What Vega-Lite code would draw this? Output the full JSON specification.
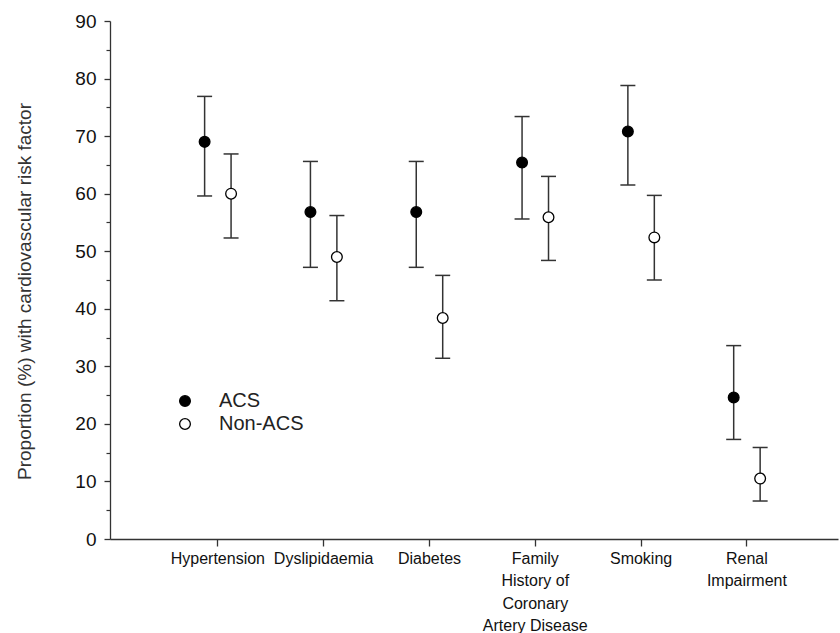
{
  "$schema": "https://vega.github.io/schema/vega-lite/v6.json",
  "width": 728,
  "height": 518,
  "autosize": {"type": "none"},
  "padding": {"left": 110, "top": 21, "right": 2, "bottom": 94},
  "background": "white",
  "config": {
    "view": {"stroke": null},
    "font": "Liberation Sans"
  },
  "data": {
    "values": [
      {"cat": "Hypertension", "group": "ACS", "value": 69.0, "lo": 59.6, "hi": 76.9},
      {"cat": "Hypertension", "group": "Non-ACS", "value": 60.0, "lo": 52.3, "hi": 66.9},
      {"cat": "Dyslipidaemia", "group": "ACS", "value": 56.8, "lo": 47.2, "hi": 65.6},
      {"cat": "Dyslipidaemia", "group": "Non-ACS", "value": 49.0, "lo": 41.4, "hi": 56.2},
      {"cat": "Diabetes", "group": "ACS", "value": 56.8, "lo": 47.2, "hi": 65.6},
      {"cat": "Diabetes", "group": "Non-ACS", "value": 38.4, "lo": 31.4, "hi": 45.8},
      {"cat": "Family|History of|Coronary|Artery Disease", "group": "ACS", "value": 65.4, "lo": 55.6, "hi": 73.4},
      {"cat": "Family|History of|Coronary|Artery Disease", "group": "Non-ACS", "value": 55.9, "lo": 48.4, "hi": 63.0},
      {"cat": "Smoking", "group": "ACS", "value": 70.8, "lo": 61.5, "hi": 78.8},
      {"cat": "Smoking", "group": "Non-ACS", "value": 52.4, "lo": 45.0, "hi": 59.7},
      {"cat": "Renal|Impairment", "group": "ACS", "value": 24.6, "lo": 17.3, "hi": 33.6},
      {"cat": "Renal|Impairment", "group": "Non-ACS", "value": 10.5, "lo": 6.6, "hi": 15.9}
    ]
  },
  "encoding": {
    "x": {
      "field": "cat",
      "type": "nominal",
      "sort": null,
      "scale": {
        "type": "band",
        "domain": ["Hypertension", "Dyslipidaemia", "Diabetes", "Family|History of|Coronary|Artery Disease", "Smoking", "Renal|Impairment"],
        "paddingInner": 0,
        "paddingOuter": 0.44,
        "align": 0.59
      },
      "axis": {
        "title": null,
        "labelExpr": "split(datum.label, '|')",
        "labelAngle": 0,
        "labelAlign": "center",
        "labelBaseline": "top",
        "labelFontSize": 16,
        "labelLineHeight": 22.5,
        "labelPadding": 4,
        "labelColor": "#111",
        "tickSize": 7,
        "tickColor": "#333",
        "domainColor": "#333",
        "tickWidth": 1.3,
        "domainWidth": 1.3,
        "grid": false
      }
    },
    "xOffset": {
      "field": "group",
      "type": "nominal",
      "scale": {"domain": ["ACS", "Non-ACS"], "paddingInner": 0, "paddingOuter": 1.5}
    }
  },
  "resolve": {"axis": {"y": "independent"}},
  "layer": [
    {
      "mark": {"type": "rule", "color": "#333", "strokeWidth": 1.5},
      "encoding": {
        "y": {
          "field": "lo",
          "type": "quantitative",
          "scale": {"domain": [0, 90], "nice": false},
          "axis": {
            "orient": "left",
            "values": [5, 15, 25, 35, 45, 55, 65, 75, 85],
            "labels": false,
            "domain": false,
            "grid": false,
            "title": null,
            "tickSize": 4,
            "tickColor": "#333",
            "tickWidth": 1.2
          }
        },
        "y2": {"field": "hi"}
      }
    },
    {
      "mark": {"type": "tick", "orient": "horizontal", "color": "#333", "size": 15, "thickness": 1.5, "opacity": 1},
      "encoding": {
        "y": {"field": "lo", "type": "quantitative", "axis": null}
      }
    },
    {
      "mark": {"type": "tick", "orient": "horizontal", "color": "#333", "size": 15, "thickness": 1.5, "opacity": 1},
      "encoding": {
        "y": {"field": "hi", "type": "quantitative", "axis": null}
      }
    },
    {
      "mark": {"type": "point", "shape": "circle", "filled": true, "stroke": "black", "strokeWidth": 1.3, "size": 115, "opacity": 1},
      "encoding": {
        "y": {
          "field": "value",
          "type": "quantitative",
          "axis": {
            "orient": "left",
            "values": [0, 10, 20, 30, 40, 50, 60, 70, 80, 90],
            "title": "Proportion (%) with cardiovascular risk factor",
            "titleFontSize": 19,
            "titleFontWeight": "normal",
            "titleColor": "#333",
            "titlePadding": 40,
            "titleY": 270,
            "labelFontSize": 19,
            "labelColor": "#111",
            "labelPadding": 8,
            "tickSize": 6,
            "tickColor": "#333",
            "tickWidth": 1.3,
            "domainColor": "#333",
            "domainWidth": 1.3,
            "grid": false
          }
        },
        "fill": {
          "field": "group",
          "type": "nominal",
          "scale": {"domain": ["ACS", "Non-ACS"], "range": ["black", "white"]},
          "legend": {
            "orient": "none",
            "legendX": 65,
            "legendY": 370,
            "title": null,
            "padding": 0,
            "labelFontSize": 20,
            "labelColor": "#222",
            "labelOffset": 24,
            "rowPadding": 3,
            "symbolType": "circle",
            "symbolSize": 115,
            "symbolStrokeColor": "black",
            "symbolStrokeWidth": 1.3,
            "symbolOpacity": 1
          }
        }
      }
    }
  ]
}
